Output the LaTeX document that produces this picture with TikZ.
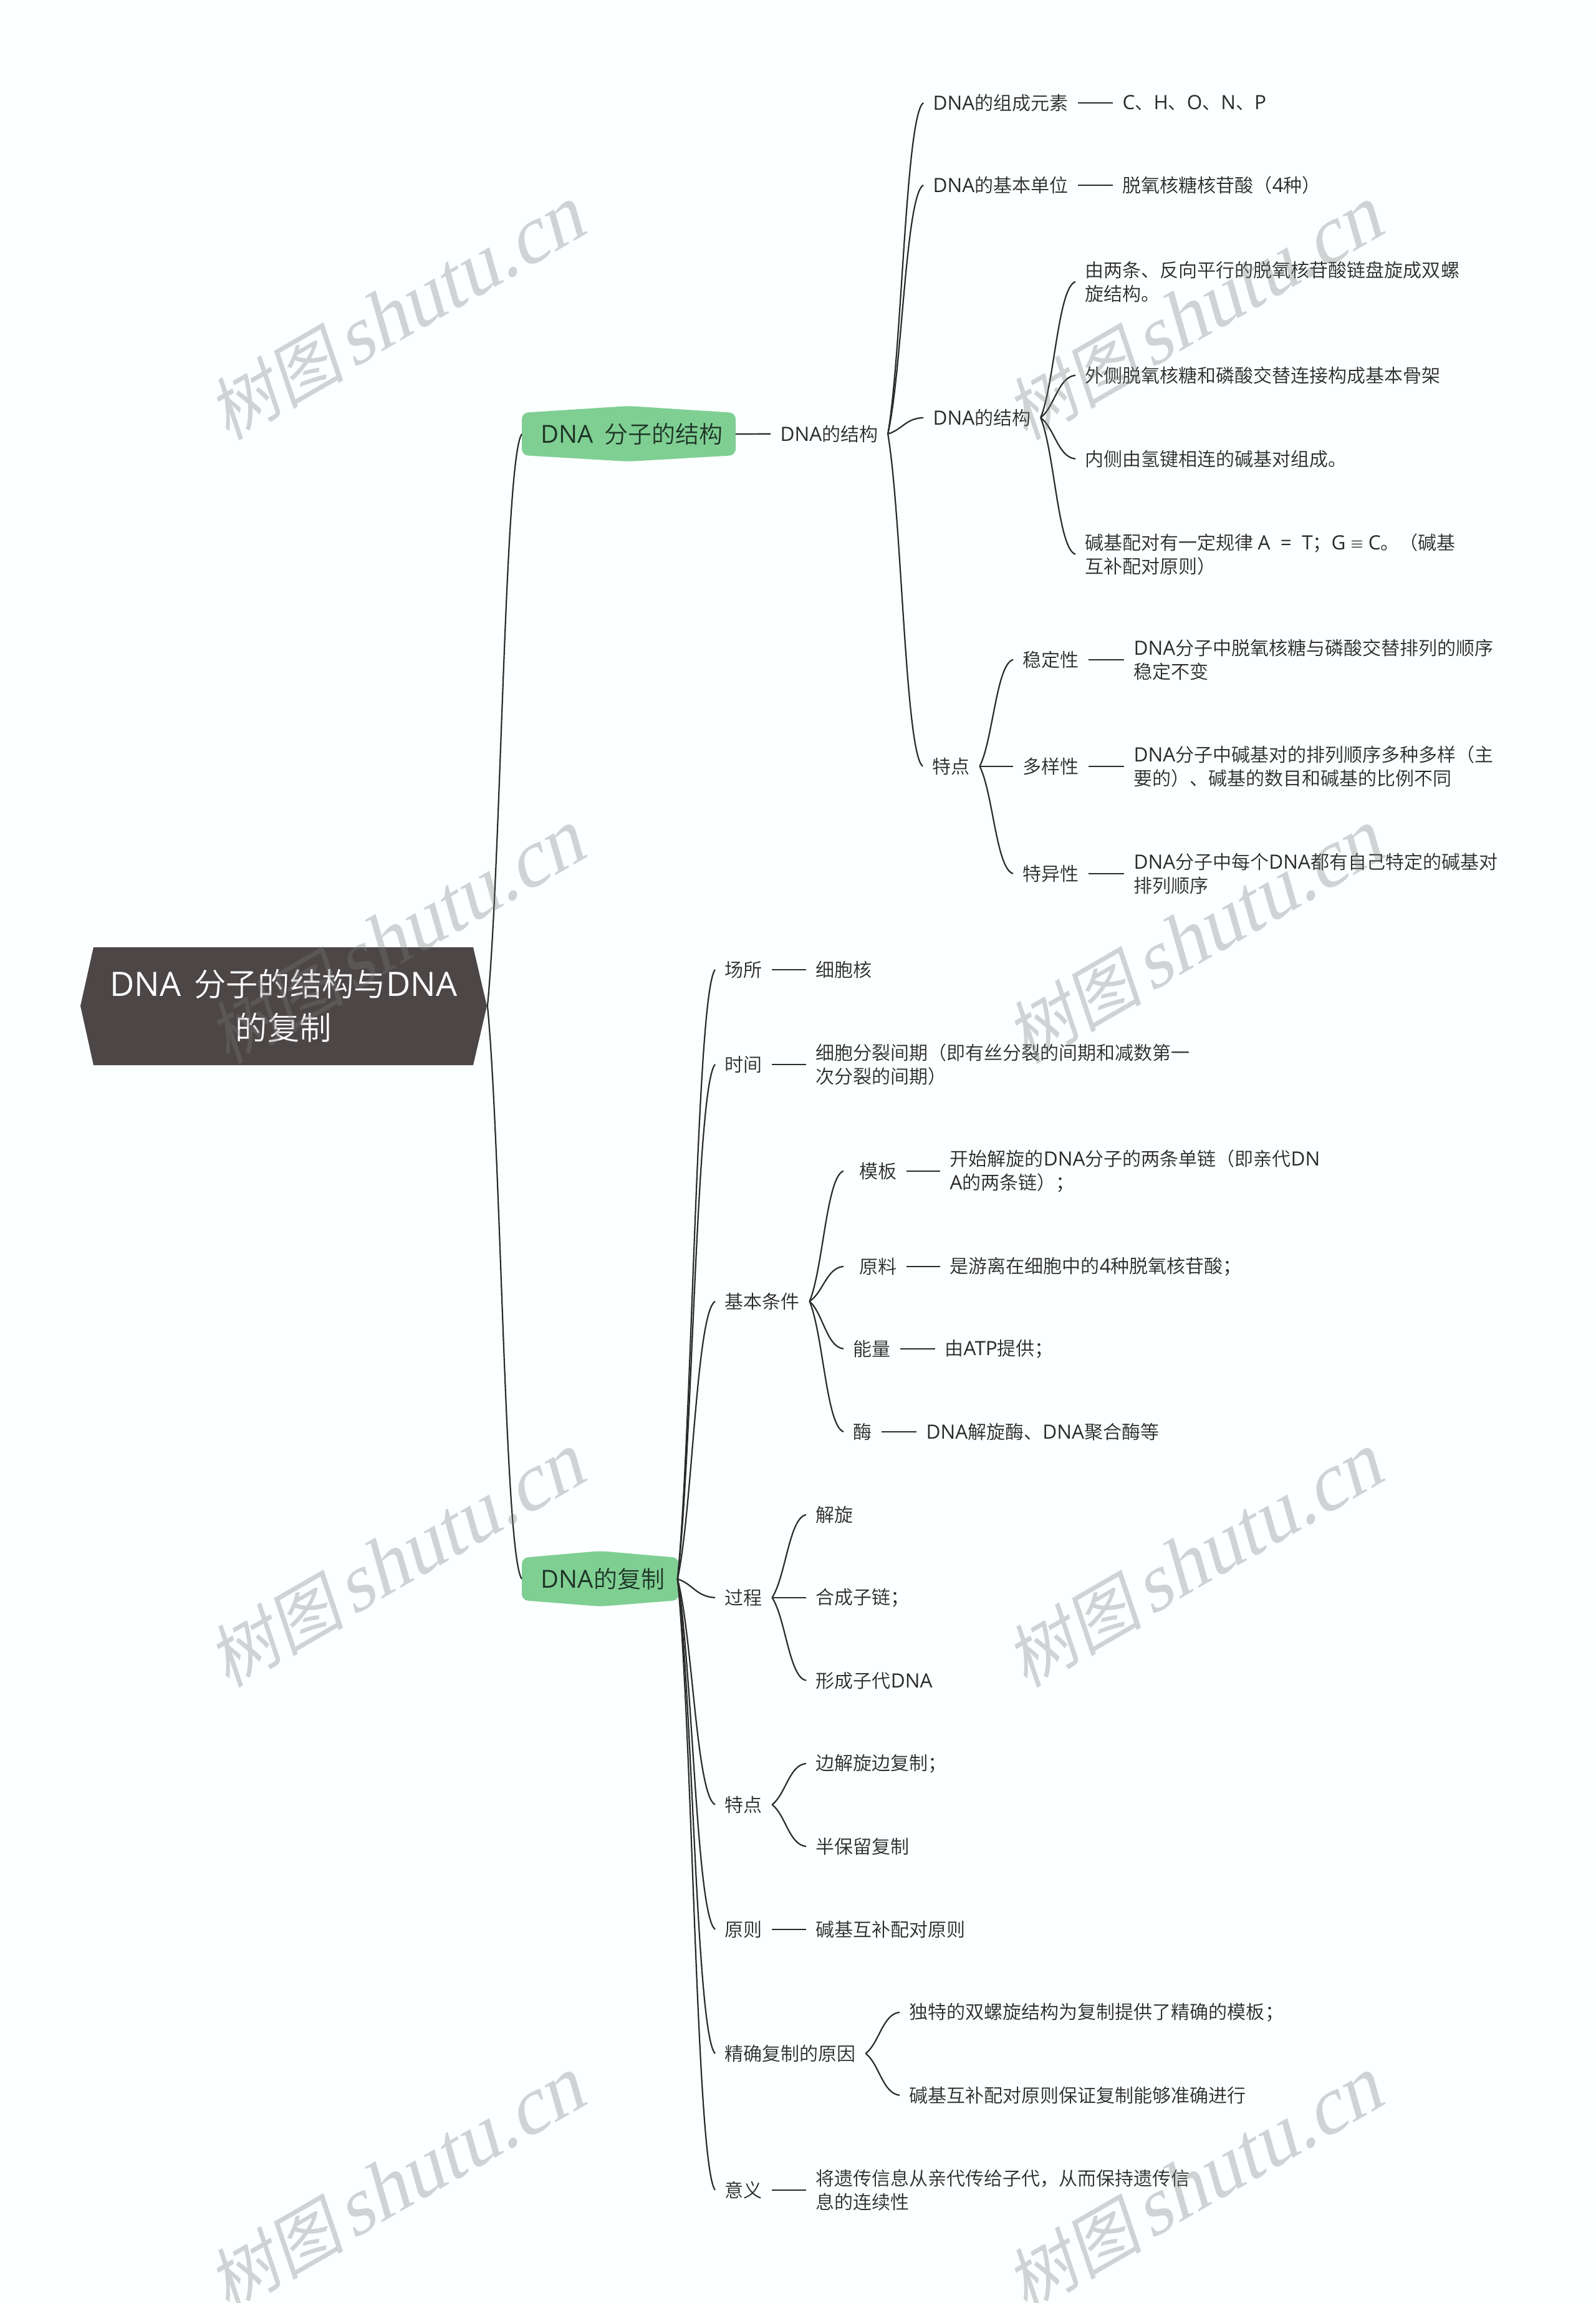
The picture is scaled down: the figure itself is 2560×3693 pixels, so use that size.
\documentclass[tikz,border=0pt]{standalone}
\usepackage{fontspec}
\usetikzlibrary{calc}
\setmainfont{Noto Sans CJK SC DemiLight}
\newfontfamily\latinfont[Scale=1.05]{Open Sans}
\newfontfamily\wmcjk[FakeSlant=0.2, Scale=0.9]{Noto Sans CJK SC}
\newfontfamily\wmlatin[FakeSlant=0.25, Scale=1.06]{Liberation Serif}
\newcommand{\en}[1]{{\latinfont #1}}
\definecolor{pagebg}{HTML}{FBFFFF}
\definecolor{rootfill}{HTML}{4C4646}
\definecolor{branchfill}{HTML}{7FCF93}
\definecolor{branchtext}{HTML}{1F3527}
\definecolor{inkgray}{HTML}{2A2A2A}
\tikzset{
  rootnode/.style={text=white, font=\fontsize{14.6pt}{19.9pt}\selectfont, align=center, minimum width=6.52cm, inner sep=0pt},
  branchnode/.style={anchor=west, text=branchtext, font=\fontsize{10.8pt}{13pt}\selectfont, inner xsep=0.2cm, inner ysep=0pt},
  leaf/.style={anchor=west, yshift=-0.008cm, text=inkgray, font=\fontsize{8.535pt}{10.8pt}\selectfont, align=left, inner xsep=0.15cm, inner ysep=0pt},
  conn/.style={draw=inkgray, line width=0.022cm},
  wmark/.style={rotate=30, text=black!52, opacity=0.33, font=\fontsize{34.8pt}{38pt}\selectfont, inner sep=0pt}
}
\newcommand{\lnk}[2]{\draw[conn] let \p1=(#1.east), \p2=(#2.west) in (\p1) .. controls ({\x1+0.4*(\x2-\x1)},{\y1+0.25*(\y2-\y1)}) and ({\x1+0.5*(\x2-\x1)},{\y1+0.96*(\y2-\y1)}) .. (\p2);}
\begin{document}
\begin{tikzpicture}[x=0.01cm, y=-0.01cm]
    \fill[pagebg] (0,0) rectangle (2560,3693);
    \useasboundingbox (0,0) rectangle (2560,3693);
    % main shapes
    \fill[rootfill] (150,1519) -- (759,1519) -- (781,1613) -- (759,1708) -- (150,1708) -- (129,1613) -- cycle;
    \fill[branchfill, rounded corners=0.1cm] (837,662) -- (1008,651) -- (1180,662) -- (1180,730) -- (1008,740) -- (837,730) -- cycle;
    \fill[branchfill, rounded corners=0.1cm] (837,2498) -- (963,2487) -- (1089,2498) -- (1089,2566) -- (963,2576) -- (837,2566) -- cycle;
    \node[rootnode] (root) at (455,1613) {\en{DNA}\hspace{0.4em}分子的结构与\en{DNA}\\的复制};
    \node[branchnode] (bone) at (837,696) {\hspace*{0.1cm}\en{DNA}\hspace{0.45em}分子的结构};
    \node[branchnode] (btwo) at (837,2532) {\hspace*{0.1cm}\en{DNA}的复制};
    % upper branch
    \node[leaf] (sone) at (1236,695) {\en{DNA}的结构};
    \node[leaf] (elem) at (1481,164) {\en{DNA}的组成元素};
    \node[leaf] (elemv) at (1785,164) {\en{C}、\en{H}、\en{O}、\en{N}、\en{P}};
    \node[leaf] (unit) at (1481,296) {\en{DNA}的基本单位};
    \node[leaf] (unitv) at (1785,296) {脱氧核糖核苷酸（\en{4}种）};
    \node[leaf] (stru) at (1481,669) {\en{DNA}的结构};
    \node[leaf] (stra) at (1725,451) {由两条、反向平行的脱氧核苷酸链盘旋成双螺\\旋结构。};
    \node[leaf] (strb) at (1725,601) {外侧脱氧核糖和磷酸交替连接构成基本骨架};
    \node[leaf] (strc) at (1725,735) {内侧由氢键相连的碱基对组成。};
    \node[leaf] (strd) at (1725,888) {碱基配对有一定规律~\en{A~~=~~T}；\en{G} {\fontsize{6.5pt}{8pt}\selectfont ≡} \en{C}。（碱基\\互补配对原则）};
    \node[leaf] (feat) at (1480,1228) {特点};
    \node[leaf] (fa) at (1625,1057) {稳定性};
    \node[leaf] (fav) at (1803,1057) {\en{DNA}分子中脱氧核糖与磷酸交替排列的顺序\\稳定不变};
    \node[leaf] (fb) at (1625,1228) {多样性};
    \node[leaf] (fbv) at (1803,1228) {\en{DNA}分子中碱基对的排列顺序多种多样（主\\要的）、碱基的数目和碱基的比例不同};
    \node[leaf] (fc) at (1625,1400) {特异性};
    \node[leaf] (fcv) at (1803,1400) {\en{DNA}分子中每个\en{DNA}都有自己特定的碱基对\\排列顺序};
    % lower branch
    \node[leaf] (place) at (1147,1554) {场所};
    \node[leaf] (placev) at (1293,1554) {细胞核};
    \node[leaf] (time) at (1147,1706) {时间};
    \node[leaf] (timev) at (1293,1706) {细胞分裂间期（即有丝分裂的间期和减数第一\\次分裂的间期）};
    \node[leaf] (cond) at (1147,2086) {基本条件};
    \node[leaf] (ca) at (1353,1877) {\hspace*{0.1cm}模板};
    \node[leaf] (cav) at (1508,1877) {开始解旋的\en{DNA}分子的两条单链（即亲代\en{DN}\\\en{A}的两条链）；};
    \node[leaf] (cb) at (1353,2030) {\hspace*{0.1cm}原料};
    \node[leaf] (cbv) at (1508,2030) {是游离在细胞中的\en{4}种脱氧核苷酸；};
    \node[leaf] (cc) at (1353,2162) {能量};
    \node[leaf] (ccv) at (1500,2162) {由\en{ATP}提供；};
    \node[leaf] (cd) at (1353,2295) {酶};
    \node[leaf] (cdv) at (1470,2295) {\en{DNA}解旋酶、\en{DNA}聚合酶等};
    \node[leaf] (proc) at (1147,2561) {过程};
    \node[leaf] (pa) at (1293,2428) {解旋};
    \node[leaf] (pb) at (1293,2561) {合成子链；};
    \node[leaf] (pc) at (1293,2694) {形成子代\en{DNA}};
    \node[leaf] (trait) at (1147,2893) {特点};
    \node[leaf] (ta) at (1293,2827) {边解旋边复制；};
    \node[leaf] (tb) at (1293,2960) {半保留复制};
    \node[leaf] (rule) at (1147,3093) {原则};
    \node[leaf] (rulev) at (1293,3093) {碱基互补配对原则};
    \node[leaf] (why) at (1147,3292) {精确复制的原因};
    \node[leaf] (wa) at (1443,3226) {独特的双螺旋结构为复制提供了精确的模板；};
    \node[leaf] (wb) at (1443,3359) {碱基互补配对原则保证复制能够准确进行};
    \node[leaf] (mean) at (1147,3511) {意义};
    \node[leaf] (meanv) at (1293,3511) {将遗传信息从亲代传给子代，从而保持遗传信\\息的连续性};
    % connectors
    \foreach \a/\b in {root/bone, root/btwo, bone/sone, sone/elem, sone/unit, sone/stru, sone/feat,
      elem/elemv, unit/unitv, stru/stra, stru/strb, stru/strc, stru/strd,
      feat/fa, feat/fb, feat/fc, fa/fav, fb/fbv, fc/fcv,
      btwo/place, btwo/time, btwo/cond, btwo/proc, btwo/trait, btwo/rule, btwo/why, btwo/mean,
      place/placev, time/timev, cond/ca, cond/cb, cond/cc, cond/cd,
      ca/cav, cb/cbv, cc/ccv, cd/cdv, proc/pa, proc/pb, proc/pc,
      trait/ta, trait/tb, rule/rulev, why/wa, why/wb, mean/meanv}
      {\lnk{\a}{\b}}
    % watermark
    \foreach \wx in {634,1914}
      \foreach \wy in {504,1504,2504,3504}
        \node[wmark, name=wm\wx\wy] at (\wx,\wy) {{\wmcjk 树图}\hspace{0.1em}{\wmlatin shutu.cn}};
\end{tikzpicture}
\end{document}
